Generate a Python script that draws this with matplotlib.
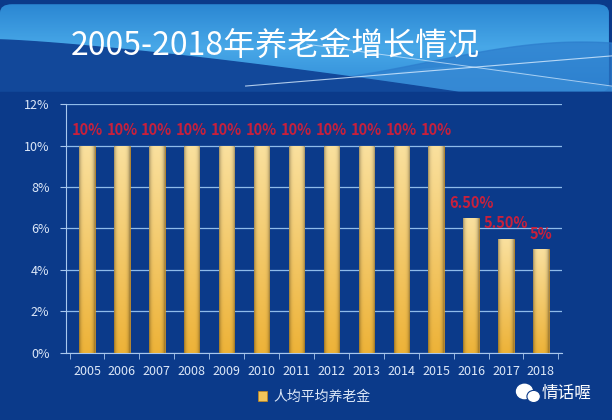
import numpy as np
import matplotlib.pyplot as plt
from matplotlib.colors import LinearSegmentedColormap
from matplotlib.patches import Ellipse, FancyBboxPatch

plt.rcParams['font.family'] = ['Noto Sans CJK SC', 'DejaVu Sans']

years = ['2005', '2006', '2007', '2008', '2009', '2010', '2011',
         '2012', '2013', '2014', '2015', '2016', '2017', '2018']
rates = [10, 10, 10, 10, 10, 10, 10, 10, 10, 10, 10, 6.5, 5.5, 5]
labels = ['10%'] * 11 + ['6.50%', '5.50%', '5%']
yticks = [0, 2, 4, 6, 8, 10, 12]
title = '2005-2018年养老金增长情况'
series_name = '人均平均养老金'

bg = '#0b3a8a'
fig = plt.figure(figsize=(6.12, 4.2), dpi=100)
fig.patch.set_facecolor(bg)

# background: light header band with waves
bga = fig.add_axes([0, 0, 1, 1])
bga.set_xlim(0, 1)
bga.set_ylim(0, 1)
bga.axis('off')
band = FancyBboxPatch((0.0, 0.78), 0.995, 0.21, boxstyle='round,pad=0,rounding_size=0.02',
                      facecolor='none', edgecolor='none')
bga.add_patch(band)
grad = np.linspace(0, 1, 200).reshape(-1, 1)
hcmap = LinearSegmentedColormap.from_list('h', ['#2f8ad6', '#48a8e8', '#2a86d2'])
im = bga.imshow(grad, extent=[0, 1, 0.78, 0.99], aspect='auto', cmap=hcmap,
                origin='lower', zorder=0)
im.set_clip_path(band)
xs = np.linspace(0, 1, 300)
# medium waves on the right
w_mid = 0.78 + 0.12 * np.exp(-((xs - 0.95) / 0.35) ** 2)
bga.fill_between(xs, 0.78, w_mid, color='#2c7ccc', alpha=0.7, zorder=1)
w_mid2 = 0.78 + 0.06 * np.exp(-((xs - 0.75) / 0.2) ** 2)
bga.fill_between(xs, 0.78, w_mid2, color='#3b8fd8', alpha=0.6, zorder=1)
# dark wave from the left
w_dark = 0.78 + 0.125 * np.clip(1 - (xs / 0.75) ** 1.3, 0, None)
bga.fill_between(xs, 0.77, w_dark, color='#12489a', zorder=2)
bga.plot(xs[120:], 0.795 + 0.12 * (xs[120:] - 0.4), color='#d8ecff', lw=0.8, alpha=0.8, zorder=3)
bga.plot(xs[150:], 0.895 - 0.2 * (xs[150:] - 0.5), color='#d8ecff', lw=0.7, alpha=0.7, zorder=3)
bga.fill_between(xs, 0, 0.78, color=bg, zorder=2)
bga.text(0.115, 0.89, title, color='white', fontsize=23, va='center', ha='left', zorder=4)

ax = fig.add_axes([0.108, 0.160, 0.810, 0.592])
ax.set_facecolor('none')
x = np.arange(len(years))
bars = ax.bar(x, rates, width=0.44, color='#f2c55a', edgecolor='#c98a18', linewidth=0.5, zorder=3)

# gold gradient on each bar: light at top, orange at bottom, darker edges
vg = np.linspace(0, 1, 100).reshape(-1, 1)
hg = np.linspace(-1, 1, 50).reshape(1, -1)
shade = 1 - 0.35 * hg ** 4
top = np.array([0.98, 0.88, 0.62])
bottom = np.array([0.93, 0.70, 0.22])
rgb = (bottom + (top - bottom) * vg[..., None]) * shade[..., None]
rgb = np.clip(rgb, 0, 1)
for b in bars:
    gi = ax.imshow(rgb, aspect='auto', zorder=4, origin='lower',
                   extent=[b.get_x(), b.get_x() + b.get_width(), 0, b.get_height()])
    gi.set_clip_path(b)

for xi, r, lab in zip(x, rates, labels):
    ax.text(xi, r + 0.75, lab, color='#c8203c', fontsize=10.5, fontweight='bold',
            ha='center', va='center', zorder=5)

ax.set_xlim(-0.6, len(years) - 0.4)
ax.set_ylim(0, 12)
ax.set_yticks(yticks)
ax.set_yticklabels([f'{v}%' for v in yticks])
ax.set_xticks(x)
ax.set_xticklabels(years)
ax.set_xticks(np.arange(-0.5, len(years), 1), minor=True)
ax.tick_params(axis='x', which='major', length=0, pad=9, colors='#dde8f8', labelsize=9)
ax.tick_params(axis='x', which='minor', length=4, color='#a9c8ee', direction='out')
ax.tick_params(axis='y', length=4, color='#a9c8ee', colors='#dde8f8', labelsize=9, pad=8)
ax.grid(axis='y', color='#8fbbea', linewidth=0.9, zorder=1)
for s in ['top', 'right']:
    ax.spines[s].set_visible(False)
ax.spines['left'].set_color('#a9c8ee')
ax.spines['bottom'].set_color('#a9c8ee')

ax.legend([bars[0]], [series_name], loc='upper center', bbox_to_anchor=(0.5, -0.1),
          frameon=False, handlelength=0.7, handleheight=0.7, fontsize=10,
          labelcolor='#dde8f8', handletextpad=0.4)

# watermark
bga.add_patch(Ellipse((0.857, 0.068), 0.026, 0.034, color='white', zorder=6))
bga.add_patch(Ellipse((0.872, 0.056), 0.022, 0.029, color='white', ec=bg, lw=0.8, zorder=7))
bga.text(0.925, 0.063, '情话喔', color='white', fontsize=12, ha='center', va='center', zorder=6)

fig.savefig('out.png', dpi=100, facecolor=bg)
